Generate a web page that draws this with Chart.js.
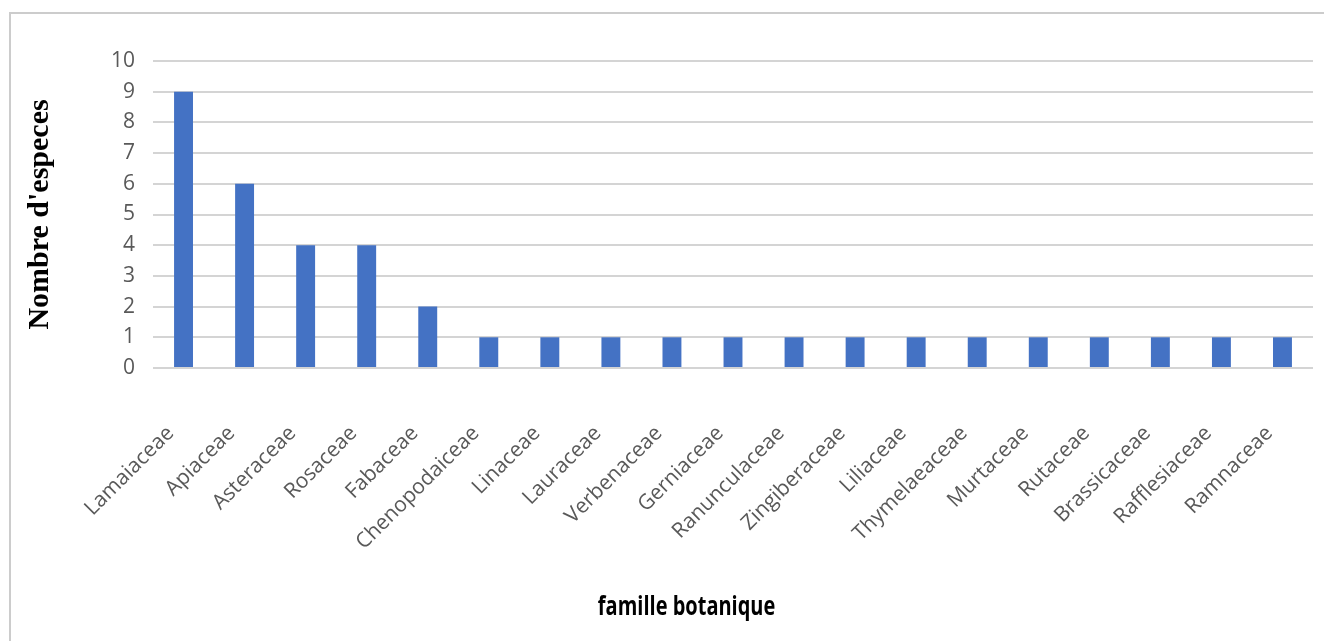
<!DOCTYPE html>
<html>
<head>
<meta charset="utf-8">
<script src="https://cdn.jsdelivr.net/npm/chart.js@4.4.0/dist/chart.umd.min.js"></script>
<style>
html, body { margin: 0; padding: 0; background: #fff; }
#wrap { width: 1324px; height: 641px; position: relative; }
</style>
</head>
<body>
<div id="wrap"><canvas id="myChart"></canvas></div>
<script>
let familyNames = ['Lamaiaceae',
'Apiaceae',
'Asteraceae',
'Rosaceae',
'Fabaceae',
'Chenopodaiceae',
'Linaceae',
'Lauraceae',
'Verbenaceae',
'Gerniaceae',
'Ranunculaceae',
'Zingiberaceae',
'Liliaceae',
'Thymelaeaceae',
'Murtaceae',
'Rutaceae',
'Brassicaceae',
'Rafflesiaceae',
'Ramnaceae'];

let speciesCount = [9, 6, 4, 4, 2, 1, 1, 1, 1, 1, 1, 1, 1, 1, 1, 1, 1, 1, 1];

const yTitle = "Nombre d'especes";
const xTitle = 'famille botanique';

// frame (left + top only, the rest is cut off) and the x title
const framePlugin = {
    id: 'framePlugin',
    beforeDraw(chart) {
        const ctx = chart.ctx;
        ctx.save();
        ctx.strokeStyle = '#cccccc';
        ctx.lineWidth = 2;
        ctx.beginPath();
        ctx.moveTo(10, chart.height);
        ctx.lineTo(10, 13);
        ctx.lineTo(chart.width, 13);
        ctx.stroke();
        ctx.restore();
    },
    afterDraw(chart) {
        const area = chart.chartArea;
        const ctx = chart.ctx;
        ctx.save();
        // the original title is a tall narrow font, so stretch it a bit
        ctx.translate(area.left + area.width * 0.46, 608);
        ctx.scale(1, 1.3);
        ctx.font = 'bold 20px "Open Sans"';
        ctx.fillStyle = '#000';
        ctx.textAlign = 'center';
        ctx.textBaseline = 'middle';
        ctx.fillText(xTitle, 0, 0);
        ctx.restore();
    }
};

let chartElement = document.getElementById('myChart').getContext('2d');

let myChart = new Chart(chartElement, {
    type: 'bar',
    data: {
        labels: familyNames,
        datasets: [{
            data: speciesCount,
            backgroundColor: '#4472C4',
            categoryPercentage: 1,
            barPercentage: 0.31
        }]
    },
    options: {
        responsive: true,
        maintainAspectRatio: false,
        animation: false,
        devicePixelRatio: 1,
        layout: {
            padding: { left: 12, top: 61, right: 11, bottom: 0 }
        },
        plugins: {
            legend: { display: false },
            tooltip: { enabled: false }
        },
        scales: {
            x: {
                grid: { display: false, drawTicks: false },
                border: { display: false },
                ticks: {
                    autoSkip: false,
                    minRotation: 45,
                    maxRotation: 45,
                    labelOffset: -13,
                    padding: 53,
                    color: '#595959',
                    font: { family: '"Open Sans"', size: 21 }
                },
                afterFit: function(scale) {
                    scale.height = 273;
                    scale.paddingLeft = 0;
                    scale.paddingRight = 0;
                }
            },
            y: {
                min: 0,
                max: 10,
                grid: { color: '#d4d4d4', lineWidth: 2, drawTicks: false },
                border: { display: false },
                ticks: {
                    stepSize: 1,
                    padding: 18,
                    color: '#595959',
                    font: { family: '"Open Sans"', size: 21 }
                },
                title: {
                    display: true,
                    text: yTitle,
                    color: '#000',
                    padding: { top: 10, bottom: 0 },
                    font: { family: '"Liberation Serif"', size: 30, weight: 'bold' }
                },
                afterFit: function(scale) { scale.width = 141; }
            }
        }
    },
    plugins: [framePlugin]
});
</script>
</body>
</html>
